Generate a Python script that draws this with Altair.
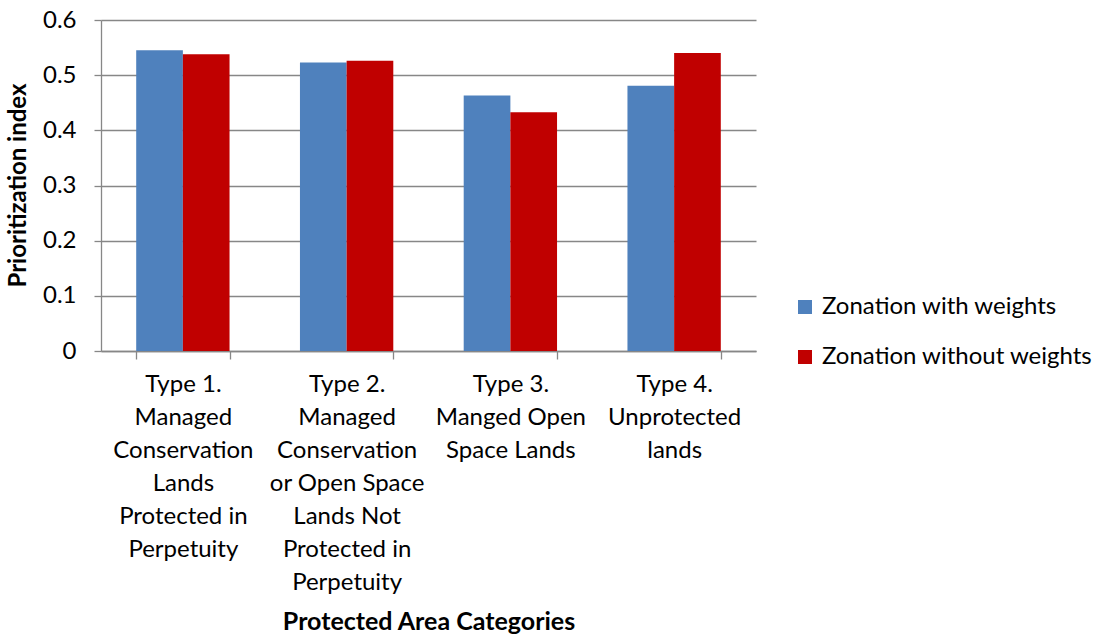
import altair as alt
import pandas as pd

categories = [
    "Type 1.|Managed|Conservation|Lands|Protected in|Perpetuity",
    "Type 2.|Managed|Conservation|or Open Space|Lands Not|Protected in|Perpetuity",
    "Type 3.|Manged Open|Space Lands",
    "Type 4.|Unprotected|lands",
]
series_names = ["Zonation with weights", "Zonation without weights"]
with_weights = [0.545, 0.523, 0.463, 0.481]
without_weights = [0.538, 0.526, 0.433, 0.540]
colors = ["#4F81BD", "#C00000"]

rows = []
for c, a, b in zip(categories, with_weights, without_weights):
    rows.append({"cat": c, "series": series_names[0], "value": a})
    rows.append({"cat": c, "series": series_names[1], "value": b})
df = pd.DataFrame(rows)

FONT = "Lato"
GRID = "#878787"

chart = alt.Chart(df).mark_bar().encode(
    x=alt.X("cat:N", sort=categories,
            scale=alt.Scale(paddingInner=0.43, paddingOuter=0.215),
            axis=alt.Axis(title="Protected Area Categories", labelAngle=0,
                          labelExpr="split(datum.label, '|')",
                          labelFont=FONT, labelFontSize=24, labelLineHeight=33,
                          labelColor="#000", labelPadding=13, labelBaseline="top",
                          tickBand="extent", tickSize=8, tickColor=GRID, tickWidth=1.3,
                          domainColor=GRID, domainWidth=1.3,
                          titleFont=FONT, titleFontSize=25, titleFontWeight="bold",
                          titleColor="#000", titleY=270, titleBaseline="middle",
                          labelLimit=0)),
    xOffset=alt.XOffset("series:N", sort=series_names),
    y=alt.Y("value:Q", scale=alt.Scale(domain=[0, 0.6]),
            axis=alt.Axis(title="Prioritization index", values=[0, 0.1, 0.2, 0.3, 0.4, 0.5, 0.6],
                          format="~g",
                          labelFont=FONT, labelFontSize=24, labelColor="#000",
                          labelPadding=18, tickSize=7, tickColor=GRID, tickWidth=1.3,
                          domainColor=GRID, domainWidth=1.3,
                          gridColor=GRID, gridWidth=1.3,
                          titleFont=FONT, titleFontSize=24, titleFontWeight="bold",
                          titleColor="#000", titleX=-83, titleY=165, titleAngle=-90,
                          titleBaseline="middle")),
    color=alt.Color("series:N", sort=series_names,
                    scale=alt.Scale(domain=series_names, range=colors),
                    legend=alt.Legend(title=None, orient="none", legendX=692, legendY=275,
                                      symbolType="square", symbolSize=196,
                                      symbolStrokeWidth=0, labelFont=FONT,
                                      labelFontSize=24, labelColor="#000",
                                      rowPadding=26, labelOffset=5, labelLimit=0)),
).properties(
    width=655, height=331,
    autosize=alt.AutoSizeParams(type="none"),
    padding={"left": 101, "top": 20, "right": 344, "bottom": 285},
).configure(background="white").configure_view(stroke=None, strokeWidth=0)

chart.save("out.html", embed_options={"renderer": "svg", "actions": False})
